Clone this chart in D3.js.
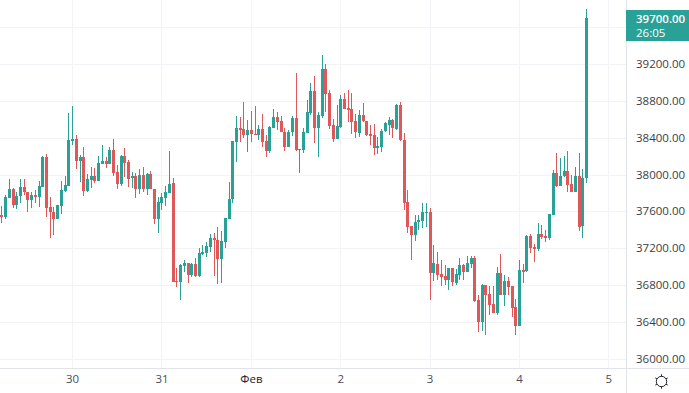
<!DOCTYPE html>
<html><head><meta charset="utf-8">
<script src="https://cdn.jsdelivr.net/npm/d3@7"></script>
<style>html,body{margin:0;padding:0;background:#fff;overflow:hidden}svg{display:block}
text{font-family:"Open Sans","Noto Sans",sans-serif}</style></head>
<body><script>
const firstIndex = -19; // hourly candles, index 0 = 00:00 on the 30th
const opens = [37561,37543,37749,37843,37670,37763,37865,37814,37724,37774,
37760,37865,38190,37648,37590,37521,37663,37821,37875,38367,
38385,38150,38186,37821,37944,37984,37933,38117,38150,38117,
38266,38024,37894,38201,38135,37958,37984,37843,37995,37843,
38006,37839,37521,37695,37749,37803,37904,36846,36838,37012,
37037,36911,37034,36900,37139,37153,37218,37309,37287,37085,
37272,37522,37735,38353,38501,38490,38432,38483,38440,38432,
38494,38360,38259,38508,38624,38580,38465,38302,38461,38613,
38266,38266,38454,38671,38906,38505,38638,39144,38884,38533,
38382,38515,38815,38718,38707,38580,38454,38645,38584,38436,
38425,38291,38299,38468,38537,38595,38497,38753,38374,37698,
37442,37344,37485,37500,37590,37594,36932,37030,36922,36900,
36857,36987,36820,36915,37019,36943,37030,37095,36640,36398,
36802,36705,36597,36495,36932,36694,36846,36792,36564,36358,
36961,36954,37333,37214,37193,37352,37330,37312,37565,38016,
37875,37980,38038,37897,37814,37984,37445,37959];
const highs = [37659,37778,37951,37857,37814,37951,37951,37814,37814,37828,
37926,38201,38219,37753,37651,37670,37930,37984,38663,38743,
38425,38208,38295,38006,38081,38067,38201,38320,38193,38302,
38385,38103,38208,38284,38157,38031,38020,38060,38078,38020,
38038,37839,37753,37796,37875,38255,37959,36983,37030,37073,
37037,37041,37099,37200,37236,37272,37356,37363,37428,37388,
37533,37919,38367,38638,38624,38786,38591,38689,38743,38537,
38653,38429,38526,38707,38678,38635,38501,38483,38635,39097,
38273,38505,38808,38989,39068,38674,39296,39195,38916,38602,
38754,38862,38888,38916,38884,38656,38700,38779,38584,38537,
38548,38411,38494,38573,38624,38598,38761,38790,38446,37832,
37442,37561,37561,37688,37688,37633,37236,37156,37073,37019,
36987,36987,36976,37095,37030,37117,37117,37117,36694,36810,
36802,36795,36792,37001,37138,36911,36885,36792,36647,37073,
37030,37344,37352,37247,37478,37453,37399,37572,38049,38230,
38175,38201,38255,37995,38078,38230,38056,39794];
const lows = [37478,37521,37749,37641,37630,37688,37778,37594,37641,37688,
37651,37865,37536,37308,37348,37521,37576,37814,37875,38320,
38056,37922,37767,37814,37850,37912,37933,38117,38074,38117,
37987,37839,37879,37977,37868,37857,37749,37789,37814,37778,
37839,37464,37366,37620,37662,37803,36838,36784,36640,36947,
36828,36893,36893,36893,37128,37110,37164,36900,36814,36828,
37207,37522,37695,38140,38356,38393,38248,38356,38432,38374,
38302,38194,38230,38501,38483,38458,38259,38295,38418,38259,
38020,38237,38447,38642,38346,38194,38613,38674,38494,38353,
38382,38501,38710,38573,38440,38396,38411,38573,38418,38320,
38212,38223,38248,38458,38425,38393,38483,38367,37615,37370,
37073,37283,37399,37417,37435,36640,36846,36857,36795,36802,
36748,36795,36802,36857,36857,36943,36983,36618,36297,36307,
36260,36477,36495,36477,36698,36575,36694,36459,36260,36358,
36820,36940,37146,37052,37175,37301,37268,37290,37565,37865,
37875,37977,37814,37814,37814,37388,37315,37912];
const closes = [37543,37753,37843,37670,37763,37865,37814,37724,37774,37760,
37872,38193,37641,37590,37521,37670,37828,37886,38374,38385,
38150,38193,37821,37951,37980,37930,38121,38146,38117,38266,
38020,37894,38201,38128,37955,37984,37847,37995,37843,38006,
37839,37521,37702,37756,37810,37897,36838,36835,37019,37041,
36914,37034,36904,37146,37160,37226,37309,37287,37085,37280,
37533,37735,38364,38505,38486,38432,38483,38436,38432,38494,
38353,38259,38515,38624,38573,38465,38302,38461,38613,38266,
38273,38461,38678,38906,38505,38645,39144,38873,38530,38385,
38526,38815,38710,38696,38573,38461,38645,38577,38429,38418,
38291,38306,38476,38562,38595,38505,38754,38374,37695,37435,
37344,37489,37507,37594,37594,36932,37041,36911,36893,36857,
36987,36835,36922,37016,36947,37037,37095,36629,36398,36802,
36698,36586,36495,36932,36698,36846,36784,36553,36362,36965,
36943,37337,37200,37193,37355,37323,37315,37572,38016,37872,
37984,38038,37886,37814,37984,37435,37959,39700];
const dayIndex = [0,24,48,72,96,120,144];
const dayLabels = ["30","31","Фев","2","3","4","5"];
const priceGrid = [36000,36400,36800,37200,37600,38000,38400,38800,39200,39600];
const priceLabels = [36000,36400,36800,37200,37600,38000,38400,38800,39200];
const lastPrice = 39700;
const countdown = "26:05";

const W = 689, H = 393, plotW = 626, plotH = 368;
const upColor = "#2aa196", downColor = "#e0575a", grid = "#f1f3f6", border = "#e0e3e8";
const x = d3.scaleLinear().domain([0,144]).range([72.6,608.9]);
const y = d3.scaleLinear().domain([36000,39600]).range([359,27]);
const px = i => Math.floor(x(i));

const svg = d3.select("body").append("svg").attr("width",W).attr("height",H);
svg.append("rect").attr("width",W).attr("height",H).attr("fill","#fff");

const g = svg.append("g").attr("shape-rendering","crispEdges");
g.selectAll(".hg").data(priceGrid).join("rect").attr("class","hg")
  .attr("x",0).attr("width",plotW).attr("y",d=>Math.round(y(d))).attr("height",1).attr("fill",grid);
g.selectAll(".vg").data(dayIndex).join("rect").attr("class","vg")
  .attr("x",d=>px(d)).attr("width",1).attr("y",0).attr("height",plotH).attr("fill",grid);

const candles = opens.map((o,k)=>({i:firstIndex+k,o,h:highs[k],l:lows[k],c:closes[k]}));
const col = d => d.c>=d.o ? upColor : downColor;
const cg = g.selectAll(".candle").data(candles).join("g").attr("class","candle");
cg.append("rect").attr("x",d=>px(d.i)).attr("width",1)
  .attr("y",d=>Math.round(y(d.h))).attr("height",d=>Math.max(1,Math.round(y(d.l))-Math.round(y(d.h))))
  .attr("fill",col);
cg.append("rect").attr("x",d=>px(d.i)-1).attr("width",3)
  .attr("y",d=>Math.round(y(Math.max(d.o,d.c))))
  .attr("height",d=>Math.max(1,Math.round(y(Math.min(d.o,d.c)))-Math.round(y(Math.max(d.o,d.c)))))
  .attr("fill",col);

// axes
const yAxis = d3.axisRight(y).tickValues(priceLabels).tickSize(0).tickPadding(10).tickFormat(d3.format(".2f"));
const ya = svg.append("g").attr("transform",`translate(${plotW},-0.2)`).call(yAxis);
ya.select(".domain").remove();
ya.selectAll("text").attr("font-size",11.5).attr("fill","#3a3d45").style("font-family",'"Open Sans",sans-serif');

const xAxis = d3.axisBottom(x).tickValues(dayIndex).tickSize(0).tickPadding(0).tickFormat((d,i)=>dayLabels[i]);
const xa = svg.append("g").attr("transform",`translate(-0.5,${plotH+7})`).call(xAxis);
xa.select(".domain").remove();
xa.selectAll("text").attr("font-size",11.5).attr("fill",(d,i)=>dayLabels[i]==="Фев"?"#20242e":"#4a4d55")
  .attr("font-weight",(d,i)=>dayLabels[i]==="Фев"?500:400).style("font-family",'"Open Sans",sans-serif');

svg.append("rect").attr("x",plotW).attr("y",0).attr("width",1).attr("height",H).attr("fill",border).attr("shape-rendering","crispEdges");
svg.append("rect").attr("x",0).attr("y",plotH).attr("width",W).attr("height",1).attr("fill",border).attr("shape-rendering","crispEdges");

// last price tag
svg.append("rect").attr("x",plotW).attr("y",10).attr("width",W-plotW).attr("height",31).attr("fill",upColor);
svg.append("text").attr("x",636).attr("y",23).attr("fill","#fff").attr("font-size",11.5).attr("font-weight",600).text(d3.format(".2f")(lastPrice));
svg.append("text").attr("x",636).attr("y",37).attr("fill","#fff").attr("font-size",11.5).text(countdown);

// settings icon
const ic = svg.append("g").attr("transform","translate(661.5,381.5)").attr("fill","none").attr("stroke","#20242e").attr("stroke-width",1);
ic.append("circle").attr("r",5.2);
d3.range(6).forEach(k=>{
  const a = Math.PI/3*k + Math.PI/6;
  ic.append("line").attr("x1",5.2*Math.cos(a)).attr("y1",5.2*Math.sin(a)).attr("x2",7.2*Math.cos(a)).attr("y2",7.2*Math.sin(a));
});
</script></body></html>
